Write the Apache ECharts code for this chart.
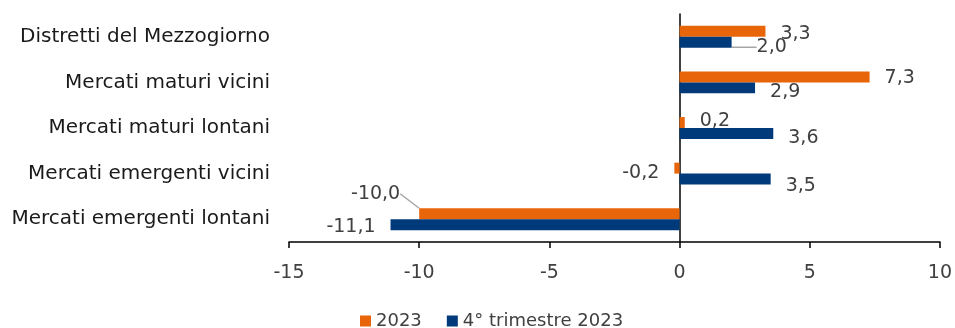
<!DOCTYPE html>
<html><head><meta charset="utf-8">
<script src="https://cdn.jsdelivr.net/npm/echarts@6/dist/echarts.min.js"></script>
<style>html,body{margin:0;padding:0;background:#fff}#c{width:955px;height:328px}</style>
</head><body><div id="c"></div>
<script>
const categories = ['Distretti del Mezzogiorno','Mercati maturi vicini','Mercati maturi lontani','Mercati emergenti vicini','Mercati emergenti lontani'];
const seriesNames = ['2023','4° trimestre 2023'];
const values2023 = [3.3, 7.3, 0.2, -0.2, -10.0];
const valuesQ4 = [2.0, 2.9, 3.6, 3.5, -11.1];
const xTicks = {min: -15, max: 10, interval: 5};

const FONT = 'DejaVu Sans';
const FS = 19;
const fmt = v => v.toFixed(1).replace('.', ',');
// label nudges (style only): [dx, dy] per series/data index
const nudges = [
  [[0,3],[0,1],[0,-1],[0,5],[-4,-20]],
  [[10,5],[0,4],[0,5],[0,7],[0,2]]
];
const leader = [[false,false,false,false,true],[true,false,false,false,false]];

function mkSeries(si, vals, color) {
  return {
    name: seriesNames[si], type: 'bar', barGap: '0%', barCategoryGap: '52%',
    itemStyle: {color: color},
    data: vals.map((v, i) => ({
      value: v,
      label: {position: v < 0 ? 'left' : 'right'},
      labelLine: {show: leader[si][i], lineStyle: {color: '#a6a6a6', width: 1.5}}
    })),
    label: {show: true, distance: 15, formatter: p => fmt(p.value), fontFamily: FONT, fontSize: FS, color: '#404040'},
    labelLayout: p => ({dx: nudges[si][p.dataIndex][0], dy: nudges[si][p.dataIndex][1]}),
    z: 2
  };
}

const chart = echarts.init(document.getElementById('c'));
chart.setOption({
  animation: false,
  grid: {left: 289, right: 15, top: 14, bottom: 86, containLabel: false},
  legend: {top: 312, left: 360, padding: 0, itemWidth: 11, itemHeight: 11, itemGap: 25, icon: 'rect',
    textStyle: {fontFamily: FONT, fontSize: 18, color: '#404040'}},
  xAxis: {type: 'value', min: xTicks.min, max: xTicks.max, interval: xTicks.interval,
    axisLine: {show: true, onZero: false, lineStyle: {color: '#000', width: 1.5}},
    axisTick: {show: true, length: 6, lineStyle: {color: '#000', width: 1.5}},
    splitLine: {show: false},
    axisLabel: {fontFamily: FONT, fontSize: FS, color: '#404040', margin: 22}},
  yAxis: [
    {type: 'category', data: categories, inverse: true, position: 'left',
      axisLine: {show: false, onZero: false}, axisTick: {show: false},
      axisLabel: {fontFamily: FONT, fontSize: 20, color: '#1a1a1a', margin: 19}},
    {type: 'category', data: categories, inverse: true,
      axisLine: {show: true, onZero: true, lineStyle: {color: '#000', width: 1.5}},
      axisTick: {show: false}, axisLabel: {show: false}}
  ],
  series: [mkSeries(0, values2023, '#E8650A'), mkSeries(1, valuesQ4, '#003A7A')]
});
</script></body></html>
